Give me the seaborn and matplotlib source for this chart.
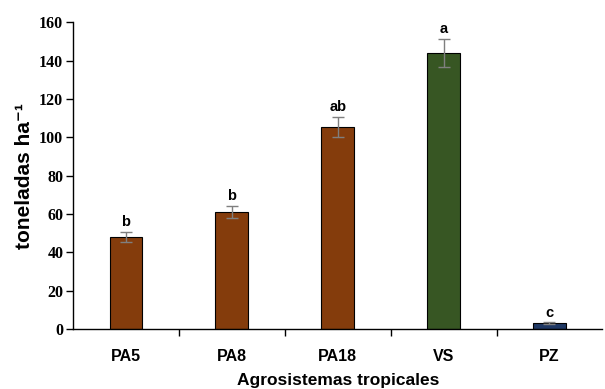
import pandas as pd
import matplotlib.pyplot as plt
import seaborn as sns

# valores
sistemas = ["PA5", "PA8", "PA18", "VS", "PZ"]
toneladas = [48, 61, 105.5, 144, 3]
error = [2.5, 3, 5.2, 7.3, 0.5]
letras = ["b", "b", "ab", "a", "c"]
colores = ["#843C0C", "#843C0C", "#843C0C", "#375623", "#1F3864"]

df = pd.DataFrame({"sistema": sistemas, "ton": toneladas})

sns.set_style("white")
plt.rcParams.update({
    "text.color": "black",
    "axes.labelcolor": "black",
    "xtick.color": "black",
    "ytick.color": "black",
})

fig = plt.figure(figsize=(6.05, 3.89), dpi=100)
ax = fig.add_axes([0.1207, 0.154, 0.875, 0.789])

sns.barplot(
    data=df,
    x="sistema",
    y="ton",
    hue="sistema",
    palette=colores,
    saturation=1,
    width=0.31,
    edgecolor="black",
    linewidth=0.8,
    legend=False,
    ax=ax
)

ax.errorbar(
    range(len(sistemas)),
    toneladas,
    yerr=error,
    fmt="none",
    ecolor="#7f7f7f",
    elinewidth=1,
    capsize=4,
    capthick=1
)

for i, (v, e, l) in enumerate(zip(toneladas, error, letras)):
    ax.text(i, v + e + 1.5, l, ha="center", va="bottom",
            fontsize=10.5, fontweight="bold", family="Liberation Sans")

ax.set_ylim(0, 160)
ax.set_xlim(-0.5, 4.5)
ax.set_yticks(range(0, 161, 20))

# marcas del eje x entre categorias
ax.set_xticks([0.5, 1.5, 2.5, 3.5], minor=False)
ax.set_xticklabels([])
ax.set_xticks(range(len(sistemas)), minor=True)
ax.set_xticklabels(sistemas, minor=True)
ax.tick_params(axis="x", which="major", direction="out", length=5, width=1, bottom=True)
ax.tick_params(axis="x", which="minor", length=0, pad=14, bottom=True)
ax.tick_params(axis="y", direction="out", length=5, width=1, left=True, pad=2)

for lab in ax.get_xticklabels(minor=True):
    lab.set_fontfamily("Liberation Sans")
    lab.set_fontweight("bold")
    lab.set_fontsize(11.5)
for lab in ax.get_yticklabels():
    lab.set_fontfamily("Liberation Serif")
    lab.set_fontweight("bold")
    lab.set_fontsize(11.5)

sns.despine(ax=ax)
ax.spines["left"].set_color("black")
ax.spines["bottom"].set_color("black")
ax.spines["left"].set_linewidth(1)
ax.spines["bottom"].set_linewidth(1)

ax.set_xlabel("Agrosistemas tropicales", fontsize=12.5, fontweight="bold",
              family="Liberation Sans", labelpad=7)
ax.set_ylabel("toneladas ha\u207b\u00b9", fontsize=15, fontweight="bold",
              family=["Liberation Sans", "DejaVu Sans"], labelpad=4)

fig.savefig("out.png", dpi=100)
